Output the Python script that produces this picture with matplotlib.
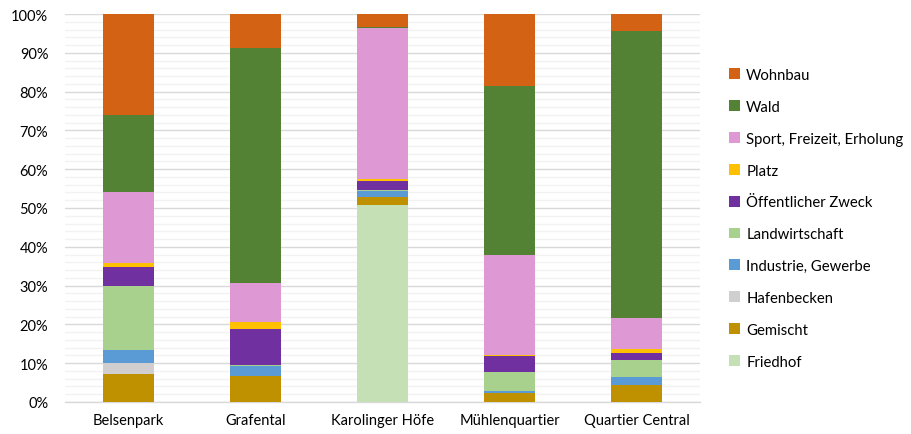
import matplotlib
matplotlib.use("Agg")
import matplotlib.pyplot as plt
import numpy as np
from matplotlib.ticker import MultipleLocator, FuncFormatter

plt.rcParams['font.family'] = ['Lato', 'DejaVu Sans']

categories = ["Belsenpark", "Grafental", "Karolinger Höfe", "Mühlenquartier", "Quartier Central"]

# stacking order: bottom to top
series_names = ["Friedhof", "Gemischt", "Hafenbecken", "Industrie, Gewerbe", "Landwirtschaft",
                "Öffentlicher Zweck", "Platz", "Sport, Freizeit, Erholung", "Wald", "Wohnbau"]

friedhof       = [0.0, 0.0, 50.7, 0.0, 0.0]
gemischt       = [7.1, 6.7, 2.1, 2.4, 4.4]
hafenbecken    = [2.9, 0.0, 0.0, 0.0, 0.0]
industrie      = [3.4, 2.5, 1.5, 0.4, 2.1]
landwirtschaft = [16.4, 0.4, 0.3, 4.9, 4.4]
oeffentlich    = [5.1, 9.2, 2.3, 4.2, 1.7]
platz          = [0.9, 1.9, 0.7, 0.2, 1.0]
sport          = [18.4, 10.0, 38.9, 25.7, 8.0]
wald           = [19.8, 60.5, 0.2, 43.6, 74.0]
wohnbau        = [26.0, 8.9, 3.3, 18.6, 4.4]

colors = ["#C5E0B4", "#BF9000", "#D0CECE", "#5B9BD5", "#A9D18E",
          "#7030A0", "#FFC000", "#DE98D4", "#548235", "#D46215"]

data = [friedhof, gemischt, hafenbecken, industrie, landwirtschaft,
        oeffentlich, platz, sport, wald, wohnbau]

fig = plt.figure(figsize=(9.12, 4.35), dpi=100)
ax = fig.add_axes([0.0713, 0.0736, 0.6962, 0.8919])

x = np.arange(len(categories))
bottom = np.zeros(len(categories))
handles = []
for name, vals, c in zip(series_names, data, colors):
    vals = np.array(vals, dtype=float)
    b = ax.bar(x, vals, bottom=bottom, width=0.4, color=c, label=name, zorder=3)
    handles.append(b)
    bottom += vals

ax.set_xlim(-0.5, len(categories) - 0.5)
ax.set_ylim(0, 100)
ax.yaxis.set_major_locator(MultipleLocator(10))
ax.yaxis.set_minor_locator(MultipleLocator(2))
ax.yaxis.set_major_formatter(FuncFormatter(lambda v, p: f"{int(v)}%"))
ax.grid(axis='y', which='major', color='#D9D9D9', linewidth=1.0, zorder=0)
ax.grid(axis='y', which='minor', color='#F2F2F2', linewidth=1.0, zorder=0)
ax.set_xticks(x)
ax.set_xticklabels(categories)
ax.tick_params(axis='both', which='both', length=0, labelsize=10.5, colors='#000000')
ax.tick_params(axis='y', pad=12)
ax.tick_params(axis='x', pad=8)
for s in ['top', 'right', 'left']:
    ax.spines[s].set_visible(False)
ax.spines['bottom'].set_color('#D9D9D9')
ax.spines['bottom'].set_linewidth(1.0)

leg = fig.legend(handles[::-1], series_names[::-1], loc='upper left',
                 bbox_to_anchor=(0.793, 0.855), frameon=False,
                 fontsize=10.7, handlelength=0.75, handleheight=0.75,
                 handletextpad=0.4, labelspacing=1.2, borderaxespad=0)

fig.savefig("out.png", dpi=100)
